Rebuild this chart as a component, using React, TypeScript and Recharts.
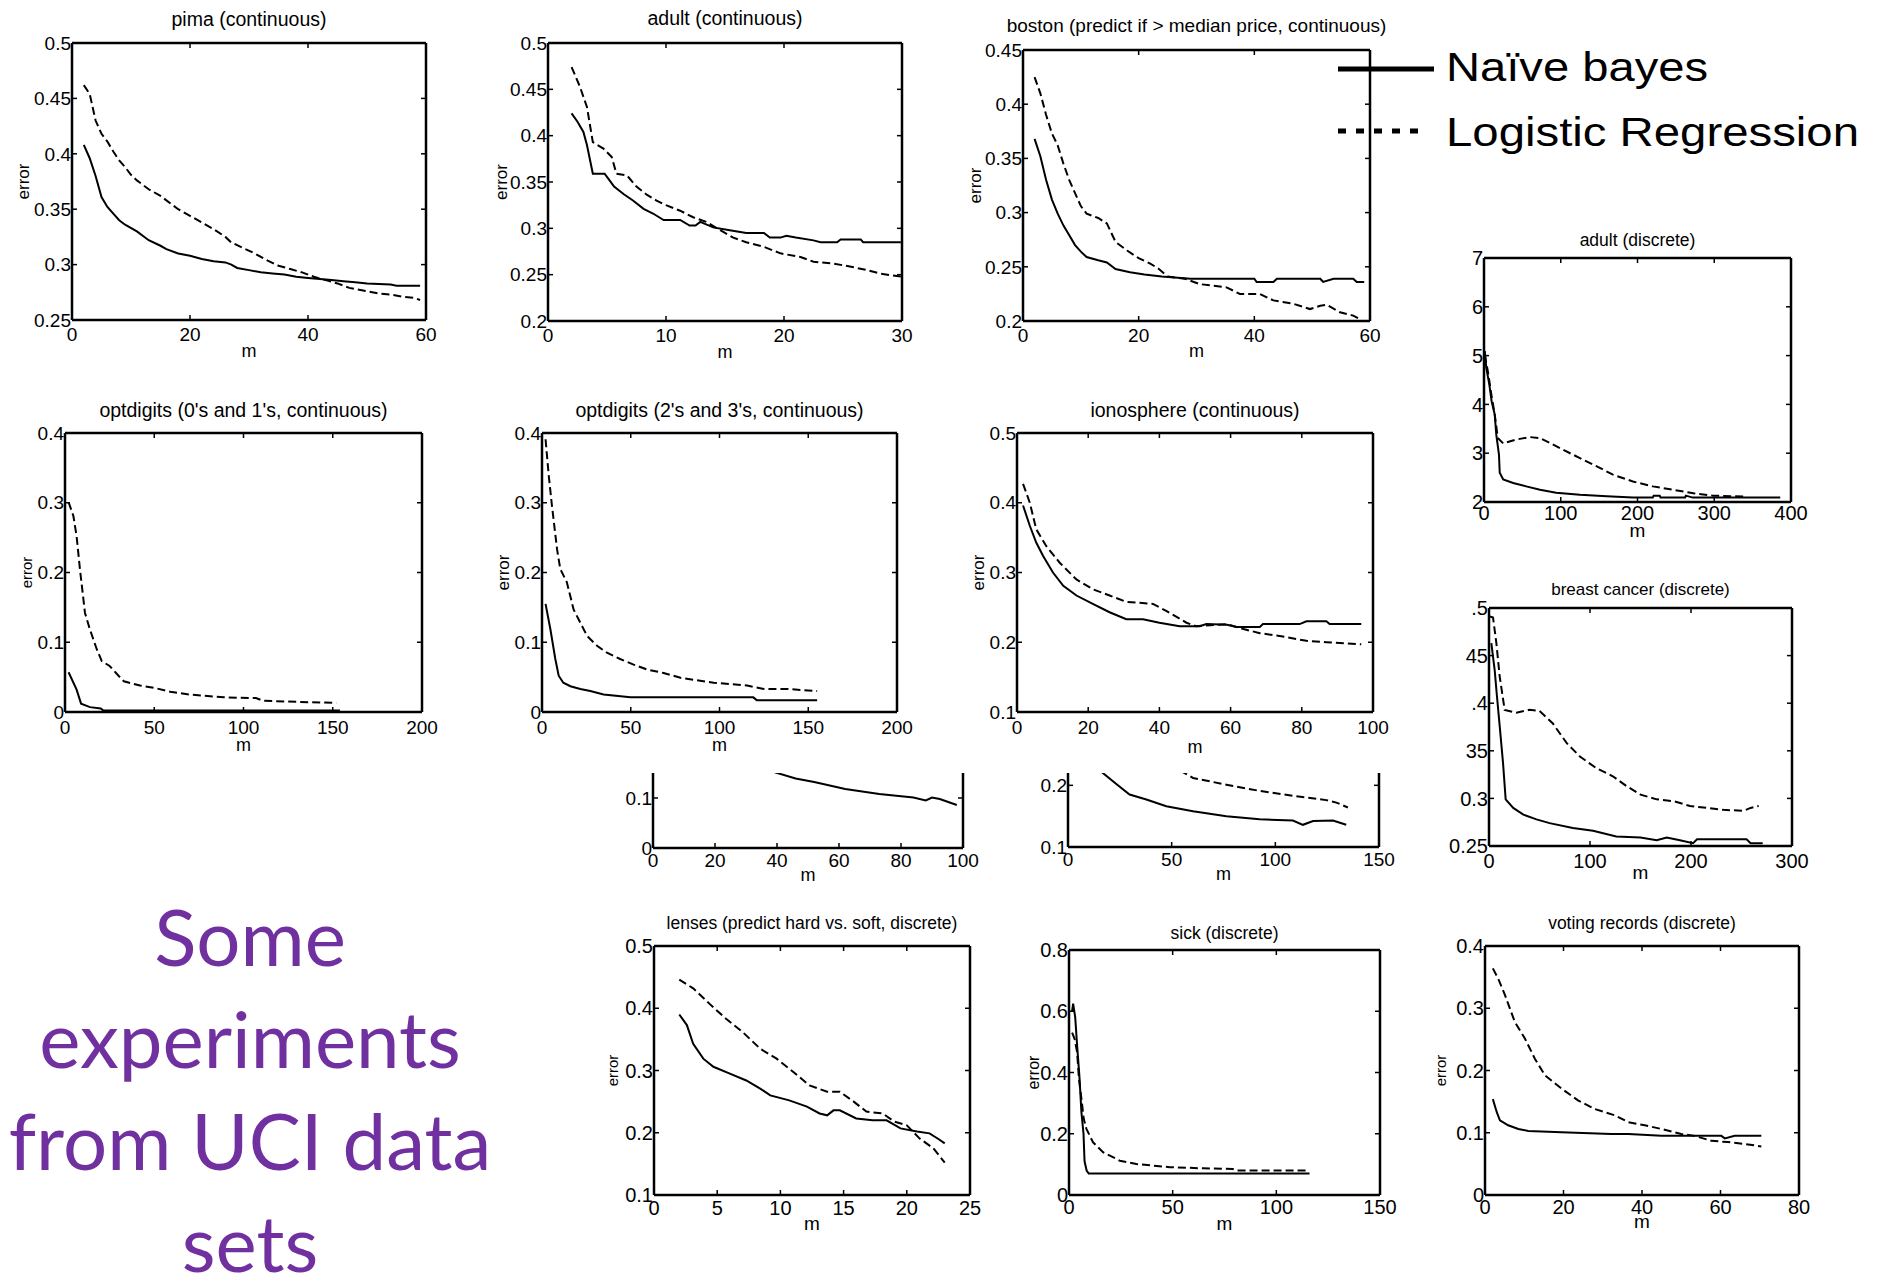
import React from 'react';
import { LineChart, Line, XAxis, YAxis } from 'recharts';

type Pt = [number, number];

// [m, error] pairs; NB = naive bayes (solid), LR = logistic regression (dashed)
const pimaNB: Pt[] = [[2, 0.408], [3, 0.396], [4, 0.38], [5, 0.361], [6, 0.352], [7, 0.346], [8, 0.34], [9, 0.336], [11, 0.33], [13, 0.322], [15, 0.317], [16, 0.314], [18, 0.31], [20, 0.308], [22, 0.305], [24, 0.303], [26, 0.302], [27, 0.3], [28, 0.297], [30, 0.295], [32, 0.293], [34, 0.292], [36, 0.291], [38, 0.289], [40, 0.288], [42, 0.287], [44, 0.286], [46, 0.285], [48, 0.284], [50, 0.283], [54, 0.282], [55, 0.281], [59, 0.281]];
const pimaLR: Pt[] = [[2, 0.462], [3, 0.454], [4, 0.43], [5, 0.418], [6, 0.411], [7, 0.402], [8, 0.394], [9, 0.388], [10, 0.381], [11, 0.376], [13, 0.368], [15, 0.362], [16, 0.358], [18, 0.35], [20, 0.344], [22, 0.338], [24, 0.332], [26, 0.325], [27, 0.32], [29, 0.315], [31, 0.31], [33, 0.304], [35, 0.299], [37, 0.296], [39, 0.293], [41, 0.289], [43, 0.286], [45, 0.283], [47, 0.279], [50, 0.276], [52, 0.274], [54, 0.273], [56, 0.271], [58, 0.27], [59, 0.268]];

const adultContNB: Pt[] = [[2, 0.424], [2.5, 0.415], [3, 0.404], [3.3, 0.39], [3.8, 0.359], [4.8, 0.359], [5.2, 0.352], [5.6, 0.345], [6.4, 0.337], [7.2, 0.33], [8.1, 0.321], [8.9, 0.316], [9.8, 0.309], [11.2, 0.309], [12, 0.303], [12.5, 0.303], [12.9, 0.307], [14, 0.301], [15.4, 0.298], [16.8, 0.295], [18.3, 0.295], [18.8, 0.29], [19.7, 0.29], [20.2, 0.292], [21, 0.29], [22.5, 0.287], [23.1, 0.285], [24.5, 0.285], [24.8, 0.288], [26.5, 0.288], [26.7, 0.285], [29.9, 0.285]];
const adultContLR: Pt[] = [[2, 0.474], [2.7, 0.453], [3.3, 0.431], [3.8, 0.393], [4.7, 0.386], [5.4, 0.377], [5.8, 0.359], [6.7, 0.357], [7.5, 0.345], [8.4, 0.336], [9.2, 0.33], [10, 0.325], [11.2, 0.319], [12.3, 0.312], [13.4, 0.307], [14.6, 0.298], [15.7, 0.29], [16.8, 0.285], [18.3, 0.28], [19.7, 0.273], [21.4, 0.269], [22.5, 0.264], [24.2, 0.262], [25.9, 0.258], [27, 0.255], [28.2, 0.251], [29.9, 0.248]];

const bostonNB: Pt[] = [[2, 0.368], [3, 0.352], [4, 0.33], [5, 0.312], [6, 0.299], [7, 0.288], [8, 0.279], [9, 0.27], [10, 0.264], [11, 0.259], [13, 0.256], [14.5, 0.254], [16, 0.248], [18.5, 0.245], [21, 0.243], [24, 0.241], [29, 0.239], [40, 0.239], [40.4, 0.236], [43.3, 0.236], [43.9, 0.239], [51.4, 0.239], [51.9, 0.236], [53.7, 0.239], [57.1, 0.239], [57.7, 0.236], [59, 0.236]];
const bostonLR: Pt[] = [[2, 0.425], [3, 0.41], [4, 0.39], [5, 0.373], [6, 0.362], [7, 0.345], [8, 0.33], [9, 0.318], [10, 0.306], [11, 0.299], [13, 0.295], [14.5, 0.29], [16, 0.273], [18, 0.265], [20, 0.258], [22, 0.253], [23.5, 0.248], [25, 0.241], [28, 0.239], [30.6, 0.234], [35.2, 0.231], [37.5, 0.225], [40.9, 0.225], [43.3, 0.219], [46.7, 0.216], [49.6, 0.211], [51.4, 0.214], [52.5, 0.215], [54.8, 0.208], [57.1, 0.205], [58.5, 0.201]];

const adultDiscNB: Pt[] = [[1, 5.09], [3, 4.75], [7, 4.4], [10, 4.06], [14, 3.79], [16, 3.38], [19.5, 2.97], [20.5, 2.6], [25, 2.46], [38, 2.39], [55, 2.32], [73, 2.25], [94, 2.19], [125, 2.15], [160, 2.12], [194, 2.09], [220, 2.09], [221, 2.13], [229, 2.13], [230, 2.09], [262, 2.09], [263, 2.13], [272, 2.09], [386, 2.09]];
const adultDiscLR: Pt[] = [[1, 5.02], [5, 4.68], [9.6, 4.2], [14, 3.79], [18, 3.31], [25, 3.2], [42, 3.28], [60, 3.33], [73, 3.31], [86, 3.21], [103, 3.07], [125, 2.9], [147, 2.73], [168, 2.56], [194, 2.42], [220, 2.32], [247, 2.25], [273, 2.18], [299, 2.13], [342, 2.11]];

const opt01NB: Pt[] = [[2, 0.057], [6.5, 0.032], [9, 0.012], [14, 0.007], [20, 0.005], [21.5, 0.002], [154, 0.002]];
const opt01LR: Pt[] = [[2, 0.301], [4.7, 0.281], [6.5, 0.252], [8.4, 0.204], [11.2, 0.142], [14, 0.118], [17.8, 0.09], [20.6, 0.073], [25, 0.066], [30, 0.052], [33, 0.044], [42, 0.038], [51, 0.034], [59, 0.029], [70, 0.025], [89, 0.021], [107, 0.02], [111, 0.016], [152, 0.013]];

const opt23NB: Pt[] = [[2, 0.155], [4.7, 0.119], [7.5, 0.076], [9.4, 0.052], [12, 0.042], [16, 0.037], [21.6, 0.033], [27.2, 0.03], [34.7, 0.025], [49.8, 0.021], [119, 0.021], [121, 0.017], [155, 0.017]];
const opt23LR: Pt[] = [[2, 0.391], [3.8, 0.339], [5.6, 0.296], [8.5, 0.233], [10.3, 0.205], [14, 0.186], [17.8, 0.147], [21.6, 0.128], [25.4, 0.109], [31, 0.095], [36.6, 0.085], [44, 0.076], [51.6, 0.068], [59, 0.061], [68.5, 0.056], [78, 0.049], [96.7, 0.042], [115.5, 0.038], [125, 0.033], [138, 0.033], [155, 0.03]];

const ionoNB: Pt[] = [[1.7, 0.396], [3.6, 0.367], [5.4, 0.343], [7.3, 0.324], [10.1, 0.3], [13, 0.281], [16.7, 0.267], [21.3, 0.255], [26, 0.243], [30.7, 0.233], [35.4, 0.233], [40, 0.228], [45.7, 0.223], [51.3, 0.223], [53.2, 0.226], [59, 0.225], [61.6, 0.222], [68.2, 0.222], [69.1, 0.226], [79.4, 0.226], [81.3, 0.23], [86.9, 0.23], [87.8, 0.226], [96.7, 0.226]];
const ionoLR: Pt[] = [[1.7, 0.427], [3.6, 0.4], [5.4, 0.362], [8.2, 0.338], [12, 0.314], [16.7, 0.29], [21.3, 0.276], [26, 0.267], [30.7, 0.258], [38.2, 0.255], [41.9, 0.245], [47.6, 0.228], [50.3, 0.223], [59, 0.226], [63.6, 0.219], [68.2, 0.213], [73.8, 0.209], [81.3, 0.202], [86.9, 0.2], [96.7, 0.197]];

const breastNB: Pt[] = [[2.3, 0.463], [5.6, 0.435], [7.9, 0.407], [10.6, 0.376], [13.9, 0.337], [16.5, 0.299], [24, 0.29], [34, 0.283], [47, 0.278], [60, 0.274], [83, 0.269], [103, 0.266], [126, 0.26], [150, 0.259], [166, 0.256], [176, 0.259], [189, 0.256], [202, 0.253], [206, 0.257], [255, 0.257], [259, 0.253], [271, 0.253]];
const breastLR: Pt[] = [[1, 0.491], [4, 0.49], [7.3, 0.463], [10.6, 0.428], [15.5, 0.393], [27, 0.39], [40, 0.393], [50, 0.392], [63, 0.379], [77, 0.358], [90, 0.344], [106, 0.332], [123, 0.323], [136, 0.313], [150, 0.304], [166, 0.299], [183, 0.297], [199, 0.292], [232, 0.288], [252, 0.287], [259, 0.29], [267, 0.292]];

// the two cut-off panels under optdigits (2's and 3's) and ionosphere
const cutANB: Pt[] = [[37, 0.156], [39, 0.152], [46, 0.139], [52, 0.132], [62, 0.118], [73, 0.108], [84, 0.101], [88, 0.095], [90, 0.101], [92.5, 0.098], [98, 0.086]];
const cutBNB: Pt[] = [[15, 0.225], [23.3, 0.202], [29.7, 0.185], [37.8, 0.177], [47.4, 0.166], [60.3, 0.158], [76.4, 0.15], [92.4, 0.145], [108.5, 0.143], [113.3, 0.136], [118.2, 0.142], [127.8, 0.143], [134.2, 0.136]];
const cutBLR: Pt[] = [[54, 0.224], [60.3, 0.212], [76.4, 0.201], [92.4, 0.191], [108.5, 0.183], [124.6, 0.176], [129.5, 0.172], [135, 0.164]];

const lensesNB: Pt[] = [[2, 0.39], [2.6, 0.373], [3.1, 0.343], [3.9, 0.319], [4.7, 0.306], [6, 0.295], [7.3, 0.284], [8.4, 0.271], [9.2, 0.26], [10.7, 0.252], [12.1, 0.242], [13.1, 0.231], [13.7, 0.228], [14.2, 0.236], [14.7, 0.236], [16, 0.223], [17.3, 0.22], [18.4, 0.22], [19.5, 0.207], [20.8, 0.202], [21.8, 0.199], [22.5, 0.19], [23, 0.183]];
const lensesLR: Pt[] = [[2, 0.446], [3.1, 0.432], [4.4, 0.407], [5.7, 0.383], [7, 0.362], [8.4, 0.335], [9.7, 0.319], [11, 0.298], [12.3, 0.276], [13.7, 0.266], [14.7, 0.266], [15.8, 0.25], [16.8, 0.234], [18.1, 0.231], [19, 0.218], [20, 0.212], [21, 0.191], [22.1, 0.175], [23, 0.152]];

const sickNB: Pt[] = [[1.5, 0.6], [2, 0.625], [3, 0.58], [4, 0.48], [5, 0.39], [6, 0.27], [7, 0.2], [7.5, 0.11], [8.5, 0.08], [9.5, 0.07], [116, 0.07]];
const sickLR: Pt[] = [[1.5, 0.53], [2.7, 0.51], [3.9, 0.467], [4.8, 0.38], [6, 0.314], [7.1, 0.249], [8.4, 0.216], [11.6, 0.172], [16.4, 0.14], [24.5, 0.112], [32.5, 0.101], [48.6, 0.091], [64.7, 0.087], [79, 0.085], [80.8, 0.08], [116, 0.08]];

const votingNB: Pt[] = [[2, 0.154], [3, 0.133], [3.8, 0.12], [5.9, 0.112], [8.5, 0.106], [11, 0.103], [19.5, 0.101], [32.2, 0.098], [36.5, 0.098], [45, 0.095], [60.2, 0.095], [61.1, 0.091], [63.6, 0.095], [70.4, 0.095]];
const votingLR: Pt[] = [[2, 0.364], [3.4, 0.347], [5.1, 0.321], [7.6, 0.278], [10.2, 0.251], [12.7, 0.219], [15.3, 0.192], [19.5, 0.171], [23.7, 0.152], [28, 0.138], [33.1, 0.128], [36.5, 0.117], [40.7, 0.112], [45, 0.106], [50, 0.098], [53.4, 0.095], [57.7, 0.087], [61.9, 0.085], [66.2, 0.082], [70.4, 0.078]];

// the breast cancer y labels are cut off on the left in the original
const breastTickText: Record<string, string> = { '0.5': '.5', '0.45': '45', '0.4': '.4', '0.35': '35', '0.3': '0.3', '0.25': '0.25' };

const FONT = '"Liberation Sans", Arial, Helvetica, sans-serif';
const YW = 80;
const RIGHT = 40;

interface PanelProps {
  box: [number, number, number, number];
  xDomain: [number, number];
  xTicks: number[];
  yDomain: [number, number];
  yTicks: number[];
  nb?: Pt[];
  lr?: Pt[];
  title?: string;
  titleFont?: number;
  titleGap?: number;
  errDist?: number;
  errFont?: number;
  xGap: number;
  mGap: number;
  cropped?: boolean;
  tickFont?: number;
  yFmt?: (v: number) => string;
}

const rows = (pts: Pt[]) => pts.map(([m, e]) => ({ m, e }));
const noLabel = () => <g />;

function Panel(p: PanelProps) {
  const [l, t, r, b] = p.box;
  const top = p.cropped ? 0 : 40;
  const xh = p.mGap + 12;
  const w = r - l + YW + RIGHT;
  const h = b - t + top + xh;
  const fs = p.tickFont ?? 19;
  const tick = { fill: '#000', fontSize: fs, fontFamily: FONT };
  const axisLine = { stroke: '#000', strokeWidth: 2.5 };
  const tickLine = { stroke: '#000', strokeWidth: 1.5 };

  return (
    <div style={{ position: 'absolute', left: l - YW, top: t - top, width: w, height: h }}>
      <LineChart width={w} height={h} margin={{ top: p.cropped ? 0 : top - 1, right: RIGHT - 1, left: 0, bottom: 0 }}>
        <XAxis
          type="number" dataKey="m" domain={p.xDomain} ticks={p.xTicks} interval={0} allowDataOverflow
          height={xh} tickSize={-5} tickMargin={5 + p.xGap} tick={tick} axisLine={axisLine} tickLine={tickLine}
          label={{ value: 'm', position: 'insideBottom', offset: xh - p.mGap, fill: '#000', fontSize: fs - 1, fontFamily: FONT }}
        />
        {!p.cropped && (
          <XAxis
            xAxisId="top" orientation="top" type="number" dataKey="m" domain={p.xDomain} ticks={p.xTicks} interval={0}
            allowDataOverflow height={1} tickSize={-5} tick={noLabel} axisLine={axisLine} tickLine={tickLine}
            label={{ value: p.title, position: 'top', offset: (p.titleGap ?? 16) - 1, fill: '#000', fontSize: p.titleFont ?? 19, fontFamily: FONT }}
          />
        )}
        <YAxis
          type="number" domain={p.yDomain} ticks={p.yTicks} interval={0} allowDataOverflow width={YW}
          tickSize={-5} tickMargin={6} tick={tick} axisLine={axisLine} tickLine={tickLine}
          tickFormatter={p.yFmt}
          label={p.errDist ? {
            value: 'error', angle: -90, position: 'insideLeft', offset: YW - p.errDist,
            fill: '#000', fontSize: p.errFont ?? 16, fontFamily: FONT, style: { textAnchor: 'middle' },
          } : undefined}
        />
        <YAxis
          yAxisId="right" orientation="right" type="number" domain={p.yDomain} ticks={p.yTicks} interval={0}
          allowDataOverflow width={1} tickSize={-5} tick={noLabel} axisLine={axisLine} tickLine={tickLine}
        />
        {p.nb && (
          <Line data={rows(p.nb)} dataKey="e" type="linear" stroke="#000" strokeWidth={2} dot={false} isAnimationActive={false} />
        )}
        {p.lr && (
          <Line data={rows(p.lr)} dataKey="e" type="linear" stroke="#000" strokeWidth={2} strokeDasharray="8 4" dot={false} isAnimationActive={false} />
        )}
      </LineChart>
    </div>
  );
}

export default function App() {
  return (
    <div style={{ position: 'absolute', left: 0, top: 0, width: 1881, height: 1277, background: '#fff', overflow: 'hidden', fontFamily: FONT }}>
      <style>{'.recharts-surface{overflow:visible}'}</style>

      <Panel box={[72, 43, 426, 320]} xDomain={[0, 60]} xTicks={[0, 20, 40, 60]} yDomain={[0.25, 0.5]} yTicks={[0.25, 0.3, 0.35, 0.4, 0.45, 0.5]}
        nb={pimaNB} lr={pimaLR} title="pima (continuous)" titleFont={19.5} titleGap={17} errDist={49} errFont={17} xGap={8} mGap={37} />
      <Panel box={[548, 43, 902, 321]} xDomain={[0, 30]} xTicks={[0, 10, 20, 30]} yDomain={[0.2, 0.5]} yTicks={[0.2, 0.25, 0.3, 0.35, 0.4, 0.45, 0.5]}
        nb={adultContNB} lr={adultContLR} title="adult (continuous)" titleFont={19.5} titleGap={18} errDist={47} errFont={17} xGap={8} mGap={37} />
      <Panel box={[1023, 50, 1370, 321]} xDomain={[0, 60]} xTicks={[0, 20, 40, 60]} yDomain={[0.2, 0.45]} yTicks={[0.2, 0.25, 0.3, 0.35, 0.4, 0.45]}
        nb={bostonNB} lr={bostonLR} title="boston (predict if > median price, continuous)" titleFont={19} titleGap={18} errDist={48} errFont={17} xGap={8} mGap={36} />
      <Panel box={[1484, 258, 1791, 502]} xDomain={[0, 400]} xTicks={[0, 100, 200, 300, 400]} yDomain={[2, 7]} yTicks={[2, 3, 4, 5, 6, 7]}
        nb={adultDiscNB} lr={adultDiscLR} title="adult (discrete)" titleFont={17.5} titleGap={12} xGap={4} mGap={35} tickFont={20} />

      <Panel box={[65, 433, 422, 712]} xDomain={[0, 200]} xTicks={[0, 50, 100, 150, 200]} yDomain={[0, 0.4]} yTicks={[0, 0.1, 0.2, 0.3, 0.4]}
        nb={opt01NB} lr={opt01LR} title="optdigits (0's and 1's, continuous)" titleFont={19.5} titleGap={16} errDist={38} errFont={15} xGap={9} mGap={39} />
      <Panel box={[542, 433, 897, 712]} xDomain={[0, 200]} xTicks={[0, 50, 100, 150, 200]} yDomain={[0, 0.4]} yTicks={[0, 0.1, 0.2, 0.3, 0.4]}
        nb={opt23NB} lr={opt23LR} title="optdigits (2's and 3's, continuous)" titleFont={19.5} titleGap={16} errDist={39} errFont={17} xGap={9} mGap={39} />
      <Panel box={[1017, 433, 1373, 712]} xDomain={[0, 100]} xTicks={[0, 20, 40, 60, 80, 100]} yDomain={[0.1, 0.5]} yTicks={[0.1, 0.2, 0.3, 0.4, 0.5]}
        nb={ionoNB} lr={ionoLR} title="ionosphere (continuous)" titleFont={19.5} titleGap={16} errDist={39} errFont={17} xGap={9} mGap={41} />
      <Panel box={[1489, 608, 1792, 846]} xDomain={[0, 300]} xTicks={[0, 100, 200, 300]} yDomain={[0.25, 0.5]} yTicks={[0.25, 0.3, 0.35, 0.4, 0.45, 0.5]}
        nb={breastNB} lr={breastLR} title="breast cancer (discrete)" titleFont={17} titleGap={13} xGap={8} mGap={33} tickFont={20}
        yFmt={(v) => breastTickText[String(v)] ?? String(v)} />

      <Panel box={[653, 773, 963, 848]} cropped xDomain={[0, 100]} xTicks={[0, 20, 40, 60, 80, 100]} yDomain={[0, 0.15]} yTicks={[0, 0.1]}
        nb={cutANB} xGap={6} mGap={33} />
      <Panel box={[1068, 773, 1379, 847]} cropped xDomain={[0, 150]} xTicks={[0, 50, 100, 150]} yDomain={[0.1, 0.22]} yTicks={[0.1, 0.2]}
        nb={cutBNB} lr={cutBLR} xGap={6} mGap={33} />

      <Panel box={[654, 946, 970, 1195]} xDomain={[0, 25]} xTicks={[0, 5, 10, 15, 20, 25]} yDomain={[0.1, 0.5]} yTicks={[0.1, 0.2, 0.3, 0.4, 0.5]}
        nb={lensesNB} lr={lensesLR} title="lenses (predict hard vs. soft, discrete)" titleFont={17.5} titleGap={17} errDist={41} errFont={15} xGap={6} mGap={35} tickFont={20} />
      <Panel box={[1069, 950, 1380, 1195]} xDomain={[0, 150]} xTicks={[0, 50, 100, 150]} yDomain={[0, 0.8]} yTicks={[0, 0.2, 0.4, 0.6, 0.8]}
        nb={sickNB} lr={sickLR} title="sick (discrete)" titleFont={17.5} titleGap={11} errDist={36} errFont={16} xGap={5} mGap={35} tickFont={20} />
      <Panel box={[1485, 946, 1799, 1195]} xDomain={[0, 80]} xTicks={[0, 20, 40, 60, 80]} yDomain={[0, 0.4]} yTicks={[0, 0.1, 0.2, 0.3, 0.4]}
        nb={votingNB} lr={votingLR} title="voting records (discrete)" titleFont={17.5} titleGap={17} errDist={44} errFont={15} xGap={5} mGap={33} tickFont={20} />

      <svg width={1881} height={1277} style={{ position: 'absolute', left: 0, top: 0, pointerEvents: 'none' }}>
        <line x1={1338} y1={69} x2={1434} y2={69} stroke="#000" strokeWidth={5} />
        <line x1={1338} y1={131} x2={1428} y2={131} stroke="#000" strokeWidth={5} strokeDasharray="8 10" />
        <text x={1446} y={81} fontFamily={FONT} fontSize={40} fill="#000" textLength={262} lengthAdjust="spacingAndGlyphs">Naïve bayes</text>
        <text x={1446} y={146} fontFamily={FONT} fontSize={40} fill="#000" textLength={413} lengthAdjust="spacingAndGlyphs">Logistic Regression</text>
        <g fontFamily="Lato, 'Open Sans', sans-serif" fontSize={78} fill="#7030A0" textAnchor="middle">
          <text x={250} y={966}>Some</text>
          <text x={250} y={1068}>experiments</text>
          <text x={250} y={1170}>from UCI data</text>
          <text x={250} y={1272}>sets</text>
        </g>
      </svg>
    </div>
  );
}
